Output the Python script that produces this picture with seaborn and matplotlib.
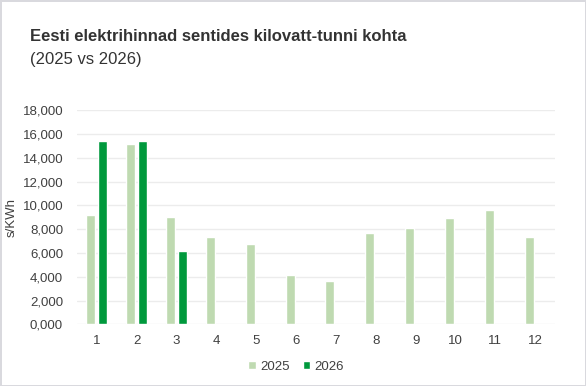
import pandas as pd
import matplotlib.pyplot as plt
import seaborn as sns

months = list(range(1, 13))
prices_2025 = [9.20, 15.17, 9.03, 7.35, 6.76, 4.15, 3.64, 7.68, 8.10, 8.94, 9.62, 7.35]
prices_2026 = [15.42, 15.42, 6.17, None, None, None, None, None, None, None, None, None]
years = ["2025", "2026"]
colors = ["#bfdab1", "#00993c"]

df = pd.DataFrame({
    "kuu": months * 2,
    "aasta": ["2025"] * 12 + ["2026"] * 12,
    "hind": prices_2025 + prices_2026,
}).dropna()

sns.set_theme(style="white")
plt.rcParams["font.family"] = ["Liberation Sans", "DejaVu Sans"]

fig = plt.figure(figsize=(5.86, 3.86), dpi=100)
fig.patch.set_edgecolor("#d9d9de")
fig.patch.set_linewidth(2)
ax = fig.add_axes([0.1314, 0.1598, 0.8157, 0.5544])

sns.barplot(
    data=df, x="kuu", y="hind", hue="aasta", hue_order=years,
    order=months, palette=colors, width=0.6, gap=0.25,
    saturation=1, ax=ax, legend=True
)

ax.set_ylim(0, 18)
ax.set_xlim(-0.5, 11.5)
ax.set_yticks(range(0, 19, 2))
ax.set_yticklabels([f"{v:.3f}".replace(".", ",") for v in range(0, 19, 2)])
ax.yaxis.grid(True, color="#ececec", linewidth=1)
ax.set_axisbelow(True)
for s in ax.spines.values():
    s.set_visible(False)
ax.tick_params(axis="both", length=0, labelsize=9.5, labelcolor="#404040")
ax.tick_params(axis="y", pad=10)
ax.tick_params(axis="x", pad=8)
ax.set_xlabel("")
ax.set_ylabel("s/KWh", fontsize=9.5, color="#404040")
ax.yaxis.set_label_coords(-0.125, 0.5)

handles, labels = ax.get_legend_handles_labels()
ax.get_legend().remove()
fig.legend(handles, labels, loc="center", bbox_to_anchor=(0.505, 0.05), ncol=2,
           frameon=False, fontsize=9.5, handlelength=0.6, handleheight=0.6,
           handletextpad=0.3, columnspacing=1.0, labelcolor="#404040")

fig.text(0.051, 0.893, "Eesti elektrihinnad sentides kilovatt-tunni kohta",
         fontsize=12, fontweight="bold", color="#333333")
fig.text(0.051, 0.834, "(2025 vs 2026)", fontsize=12, color="#333333")

fig.savefig("out.png", dpi=100, facecolor="white", edgecolor=fig.patch.get_edgecolor())
